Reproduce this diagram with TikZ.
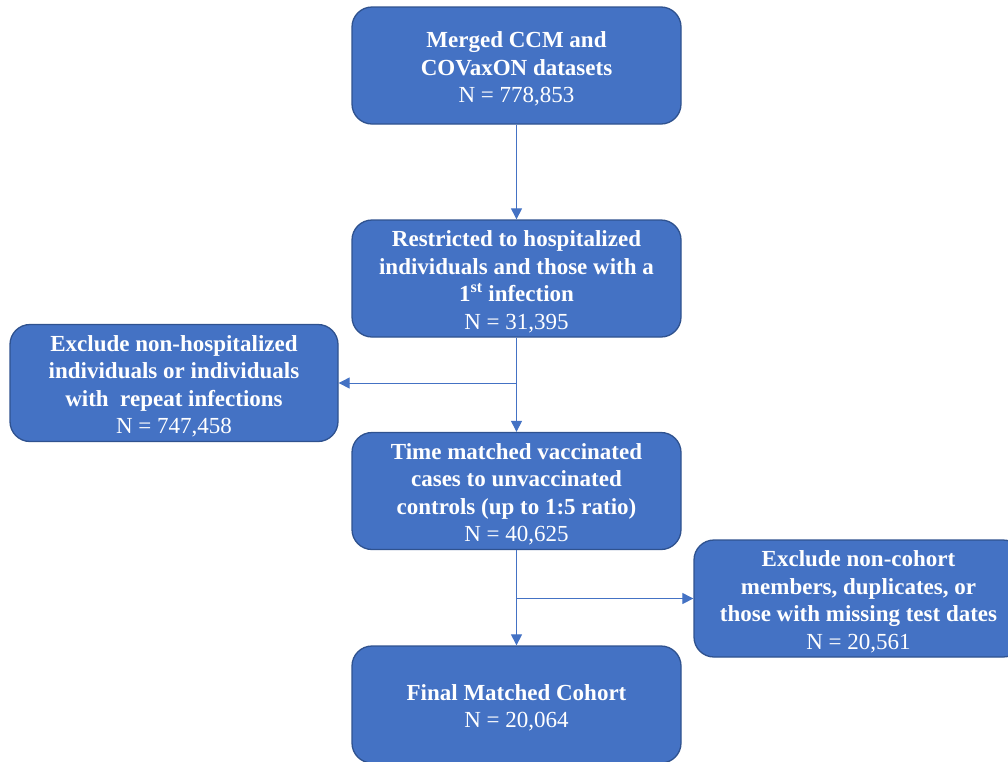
\documentclass[tikz,border=0pt]{standalone}
\usepackage{fontspec}
\setmainfont{Liberation Serif}
\usetikzlibrary{arrows.meta}
\definecolor{boxfill}{HTML}{4472C4}
\definecolor{boxline}{HTML}{2F528F}
\definecolor{arrowc}{HTML}{4472C4}
\newcommand{\tstrut}{\rule{0pt}{23pt}}
\tikzset{
  flowbox/.style={draw=boxline, line width=1.3pt, fill=boxfill, rounded corners=20pt,
    minimum width=329pt, minimum height=117pt, inner sep=0pt, text=white, align=center,
    font=\fontsize{23}{27.5}\selectfont},
  conn/.style={draw=arrowc, line width=1pt, -{Triangle[length=11pt,width=11pt]}}
}
\begin{document}
\begin{tikzpicture}[x=1pt,y=-1pt]
\useasboundingbox (0,0) rectangle (1008,761);
\begin{scope}
\clip (0,0) rectangle (1008,761);
\node[flowbox] (b1) at (516.5,65.5) {\tstrut\textbf{Merged CCM and}\\\textbf{COVaxON datasets}\\N = 778,853};
\node[flowbox] (b2) at (516.5,278.5) {\tstrut\textbf{Restricted to hospitalized}\\\textbf{individuals and those with a}\\\textbf{1\textsuperscript{st} infection}\\N = 31,395};
\node[flowbox, minimum width=328pt] (b3) at (174,383) {\tstrut\textbf{Exclude non-hospitalized}\\\textbf{individuals or individuals}\\\textbf{with\ \ repeat infections}\\N = 747,458};
\node[flowbox] (b4) at (516.5,491) {\tstrut\textbf{Time matched vaccinated}\\\textbf{cases to unvaccinated}\\\textbf{controls (up to 1:5 ratio)}\\N = 40,625};
\node[flowbox] (b5) at (858.5,598.5) {\tstrut\textbf{Exclude non-cohort}\\\textbf{members, duplicates, or}\\\textbf{those with missing test dates}\\N = 20,561};
\node[flowbox] (b6) at (516.5,704.5) {\tstrut\textbf{Final Matched Cohort}\\N = 20,064};
\end{scope}
\coordinate (s1) at (516.5,383);
\coordinate (s2) at (516.5,598.5);
\draw[conn] (b1.south) -- (b2.north);
\draw[conn] (b2.south) -- (b4.north);
\draw[conn] (s1) -- (b3.east);
\draw[conn] (b4.south) -- (b6.north);
\draw[conn] (s2) -- (b5.west);
\end{tikzpicture}
\end{document}
